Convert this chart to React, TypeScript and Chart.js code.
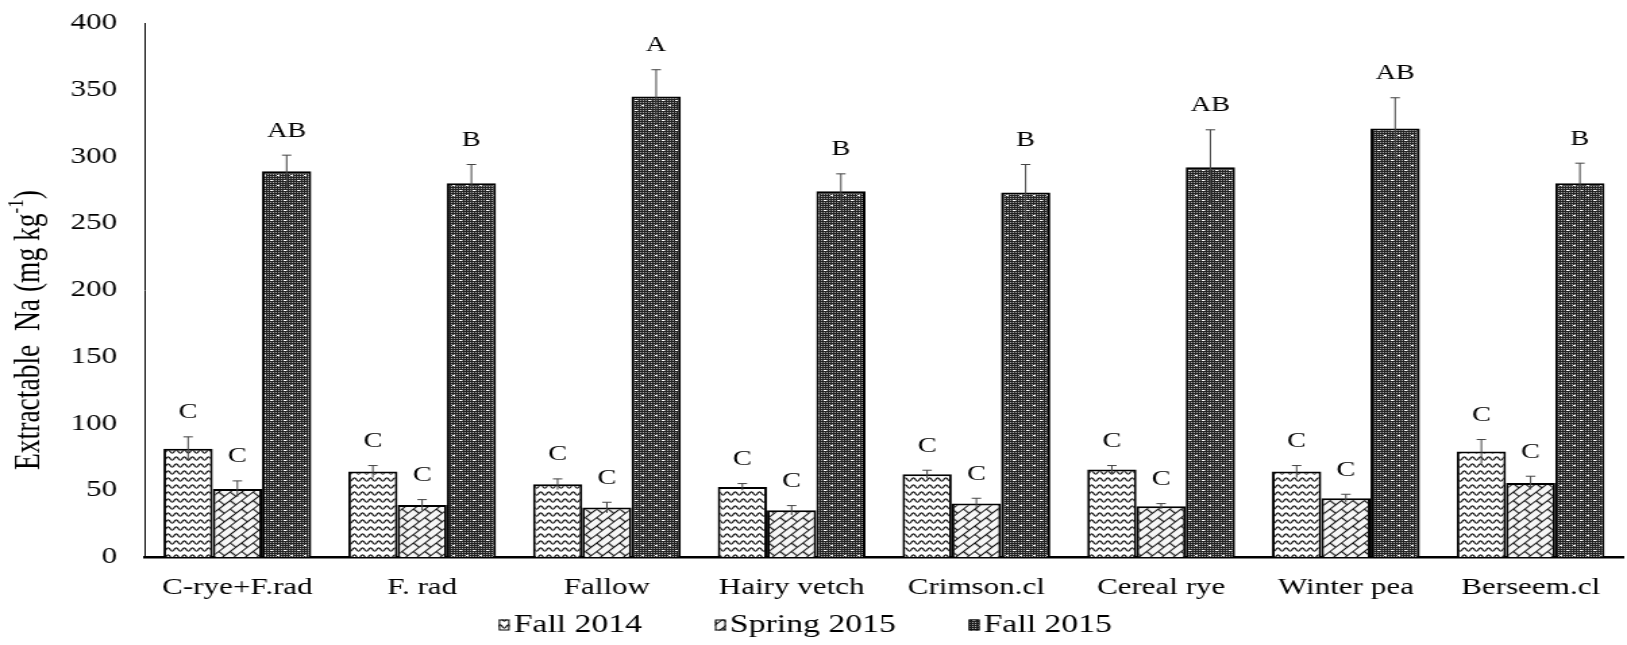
import React, { useEffect, useRef } from "react";
import { Chart, registerables } from "chart.js";

Chart.register(...registerables);

// ---------- data ----------
const categories = [
  "C-rye+F.rad",
  "F. rad",
  "Fallow",
  "Hairy vetch",
  "Crimson.cl",
  "Cereal rye",
  "Winter pea",
  "Berseem.cl",
];
const seriesNames = ["Fall 2014", "Spring 2015", "Fall 2015"];

const fall2014 = [81, 64, 54.5, 52.5, 62, 65.5, 64, 79];
const fall2014Err = [9, 4.5, 4, 2.5, 3, 3, 4.5, 9];
const fall2014Letters = ["C", "C", "C", "C", "C", "C", "C", "C"];

const spring2015 = [51, 39, 37, 35, 40, 38, 44, 55.5];
const spring2015Err = [6, 4, 4, 3.5, 4, 2, 3, 5];
const spring2015Letters = ["C", "C", "C", "C", "C", "C", "C", "C"];

const fall2015 = [289, 280, 345, 274, 273, 292, 321, 280];
const fall2015Err = [12, 14, 20, 13, 21, 28, 23, 15];
const fall2015Letters = ["AB", "B", "A", "B", "B", "AB", "AB", "B"];

const yMin = 0;
const yMax = 400;
const yStep = 50;
const yTitleMain = "Extractable  Na (mg kg";
const yTitleSup = "-1";
const yTitleEnd = ")";

// ---------- layout ----------
const FULL_W = 1627;
const H = 645;
const STRETCH = 1.35;
const W = Math.round(FULL_W / STRETCH);
const SX = FULL_W / W;
const FONT = "'Liberation Serif', 'Times New Roman', serif";

function makeTile(w: number, h: number, draw: (g: CanvasRenderingContext2D) => void) {
  const c = document.createElement("canvas");
  c.width = w;
  c.height = h;
  const g = c.getContext("2d")!;
  draw(g);
  return c;
}

function wavePattern(ctx: CanvasRenderingContext2D) {
  const tile = makeTile(6, 7, (g) => {
    g.fillStyle = "#fff";
    g.fillRect(0, 0, 6, 7);
    g.strokeStyle = "#111";
    g.lineWidth = 1.2;
    g.beginPath();
    let first = true;
    for (let x = -1; x <= 7; x += 0.25) {
      const yy = 3.5 + 1.6 * Math.sin((2 * Math.PI * x) / 6);
      if (first) {
        g.moveTo(x, yy);
        first = false;
      } else g.lineTo(x, yy);
    }
    g.stroke();
  });
  return ctx.createPattern(tile, "repeat")!;
}

function brickPattern(ctx: CanvasRenderingContext2D) {
  const tile = makeTile(12, 12, (g) => {
    g.fillStyle = "#f6f6f6";
    g.fillRect(0, 0, 12, 12);
    g.strokeStyle = "#111";
    g.lineWidth = 1.2;
    g.beginPath();
    g.moveTo(0, 0.5);
    g.lineTo(12, 0.5);
    g.moveTo(0, 6.5);
    g.lineTo(12, 6.5);
    g.moveTo(0.5, 0);
    g.lineTo(0.5, 6.5);
    g.moveTo(6.5, 6.5);
    g.lineTo(6.5, 12);
    g.stroke();
  });
  const p = ctx.createPattern(tile, "repeat")!;
  p.setTransform(new DOMMatrix().rotateSelf(-45));
  return p;
}

function dotPattern(ctx: CanvasRenderingContext2D) {
  const tile = makeTile(10, 10, (g) => {
    g.fillStyle = "#222";
    g.fillRect(0, 0, 10, 10);
    g.fillStyle = "#a8a8a8";
    for (let x = 0; x < 10; x += 2)
      for (let y = 0; y < 10; y += 2) g.fillRect(x, y, 1, 1);
    g.fillStyle = "#fff";
    g.fillRect(0, 0, 2, 1);
    g.fillRect(5, 5, 2, 1);
  });
  return ctx.createPattern(tile, "repeat")!;
}

export default function App() {
  const ref = useRef<HTMLCanvasElement>(null);

  useEffect(() => {
    const canvas = ref.current!;
    const ctx = canvas.getContext("2d")!;
    const patterns = [wavePattern(ctx), brickPattern(ctx), dotPattern(ctx)];
    const values = [fall2014, spring2015, fall2015];
    const errors = [fall2014Err, spring2015Err, fall2015Err];
    const letters = [fall2014Letters, spring2015Letters, fall2015Letters];

    const errorPlugin = {
      id: "errorBars",
      afterDatasetsDraw(chart: any) {
        const c = chart.ctx as CanvasRenderingContext2D;
        const ys = chart.scales.y;
        c.save();
        values.forEach((vals, di) => {
          const meta = chart.getDatasetMeta(di);
          meta.data.forEach((bar: any, i: number) => {
            const v = vals[i];
            const e = errors[di][i];
            const yt = ys.getPixelForValue(v + e);
            const yb = ys.getPixelForValue(v - e);
            c.strokeStyle = "#444";
            c.lineWidth = 1;
            c.beginPath();
            c.moveTo(bar.x, yt);
            c.lineTo(bar.x, yb);
            c.moveTo(bar.x - 3.5, yt);
            c.lineTo(bar.x + 3.5, yt);
            c.stroke();
            c.fillStyle = "#000";
            c.font = `21px ${FONT}`;
            c.textAlign = "center";
            c.textBaseline = "middle";
            c.fillText(letters[di][i], bar.x, yt - 24);
          });
        });
        c.restore();
      },
    };

    const titlePlugin = {
      id: "yTitle",
      afterDraw(chart: any) {
        const c = chart.ctx as CanvasRenderingContext2D;
        c.save();
        c.translate(22, 330);
        c.rotate(-Math.PI / 2);
        c.fillStyle = "#000";
        c.textBaseline = "middle";
        c.textAlign = "left";
        const big = `27.5px ${FONT}`;
        const small = `17px ${FONT}`;
        c.font = big;
        const w1 = c.measureText(yTitleMain).width;
        const w3 = c.measureText(yTitleEnd).width;
        c.font = small;
        const w2 = c.measureText(yTitleSup).width;
        let x = -(w1 + w2 + w3) / 2;
        c.font = big;
        c.fillText(yTitleMain, x, 0);
        x += w1;
        c.font = small;
        c.fillText(yTitleSup, x, -9);
        x += w2;
        c.font = big;
        c.fillText(yTitleEnd, x, 0);
        c.restore();
      },
    };

    const legendPlugin = {
      id: "customLegend",
      afterDraw(chart: any) {
        const c = chart.ctx as CanvasRenderingContext2D;
        c.save();
        c.font = `25px ${FONT}`;
        const box = 8;
        const boxH = 11;
        const gapBox = 3;
        const gapItem = 54;
        const widths = seriesNames.map((n) => c.measureText(n).width);
        const total =
          widths.reduce((a, b) => a + b, 0) + seriesNames.length * (box + gapBox) + gapItem * (seriesNames.length - 1);
        let x = W / 2 - 6 - total / 2;
        const yc = 625;
        seriesNames.forEach((n, i) => {
          c.fillStyle = patterns[i];
          c.fillRect(x, yc - boxH / 2, box, boxH);
          c.strokeStyle = "#000";
          c.lineWidth = 1;
          c.strokeRect(x + 0.5, yc - boxH / 2 + 0.5, box - 1, boxH - 1);
          x += box + gapBox;
          c.fillStyle = "#000";
          c.textAlign = "left";
          c.textBaseline = "middle";
          c.fillText(n, x, yc);
          x += widths[i] + gapItem;
        });
        c.restore();
      },
    };

    const chart = new Chart(canvas, {
      type: "bar",
      data: {
        labels: categories,
        datasets: seriesNames.map((name, i) => ({
          label: name,
          data: values[i],
          backgroundColor: patterns[i] as any,
          borderColor: "#000",
          borderWidth: 2,
          categoryPercentage: 0.8,
          barPercentage: 1.0,
        })),
      },
      options: {
        responsive: false,
        animation: false,
        devicePixelRatio: 1,
        events: [],
        layout: { padding: { left: 0, right: W - 1623 / SX, top: 23, bottom: 0 } },
        plugins: {
          legend: { display: false },
          tooltip: { enabled: false },
          title: { display: false },
        },
        scales: {
          x: {
            type: "category",
            grid: { display: false, drawTicks: false },
            border: { display: true, color: "#000", width: 2.5 },
            ticks: {
              color: "#000",
              font: { family: FONT, size: 23 },
              padding: 17,
              maxRotation: 0,
              autoSkip: false,
            },
            afterFit: (s: any) => {
              s.height = H - 557;
            },
          },
          y: {
            min: yMin,
            max: yMax,
            grid: { display: false, drawTicks: false },
            border: { display: true, color: "#000", width: 1 },
            ticks: {
              stepSize: yStep,
              color: "#000",
              font: { family: FONT, size: 23 },
              padding: 20.7,
            },
            afterFit: (s: any) => {
              s.width = 145 / SX;
              s.paddingTop = 0;
              s.paddingBottom = 0;
            },
          },
        },
      },
      plugins: [errorPlugin, titlePlugin, legendPlugin],
    });
    return () => chart.destroy();
  }, []);

  return (
    <div
      style={{
        position: "absolute",
        left: 0,
        top: 0,
        width: FULL_W,
        height: H,
        overflow: "hidden",
        background: "#fff",
      }}
    >
      <div style={{ width: W, height: H, transform: `scaleX(${SX})`, transformOrigin: "0 0" }}>
        <canvas ref={ref} width={W} height={H} style={{ display: "block" }} />
      </div>
    </div>
  );
}
